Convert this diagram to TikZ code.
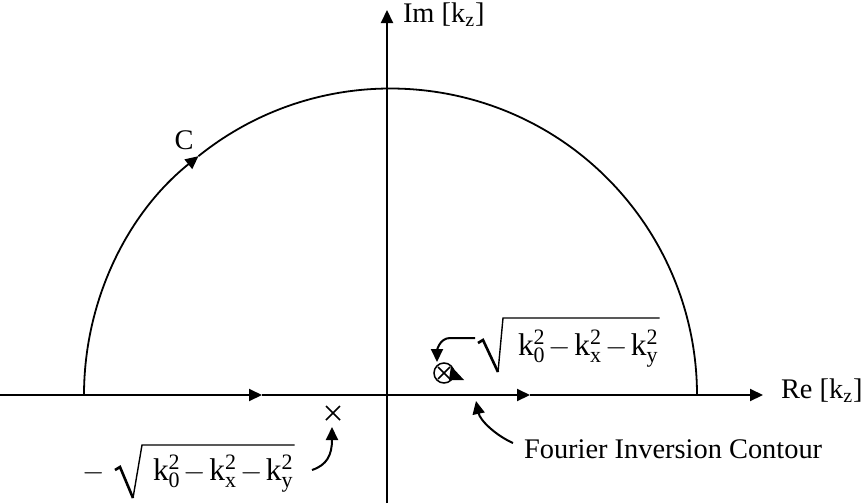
\documentclass[tikz,border=0pt]{standalone}
\usepackage{fontspec}
\setmainfont{Liberation Serif}
\usetikzlibrary{arrows.meta,calc}
\newcommand{\kk}[1]{\mathrm{k}_{\mathrm{#1}}^{\mathrm{2}}}
\newcommand{\kexpr}{\medmuskip=2mu $\kk{0}-\kk{x}-\kk{y}$}
\begin{document}
\begin{tikzpicture}[x=0.5pt,y=-0.5pt, line width=1pt,
  font=\fontsize{14.2}{17}\selectfont,
  tip/.style={-{Triangle[length=6.5pt,width=6pt]}},
  thin line/.style={line width=0.75pt},
  lbl/.style={inner sep=0pt, anchor=base west},
  mathlbl/.style={lbl, font=\fontsize{15.7}{19}\selectfont},
  radthick/.style={line width=1.3pt, line join=miter},
  radthin/.style={line width=0.7pt}]
\useasboundingbox (0,0) rectangle (866,503);
% axes
\coordinate (xL) at (0,395);
\coordinate (m1) at (262,395);
\coordinate (m2) at (530,395);
\coordinate (xR) at (763,395);
\coordinate (yB) at (387,503);
\coordinate (yT) at (387,10);
\draw[tip] (xL) -- (m1);
\draw[tip] (m1) -- (m2);
\draw[tip] (m2) -- (xR);
\draw[tip] (yB) -- (yT);
% contour C
\coordinate (aL) at (84,395);
\draw[tip, line width=0.9pt] (aL) arc[start angle=180, end angle=231.2, radius=306.5] coordinate (aM);
\draw[line width=0.9pt] (aM) arc[start angle=231.2, end angle=360, radius=306.5] coordinate (aR);
% labels
\node[lbl] (im) at (402,22) {Im [k\textsubscript{z}]};
\node[lbl] (re) at (780,398) {Re [k\textsubscript{z}]};
\node (C) at (184,140) {C};
\node[lbl] (four) at (523,458) {Fourier Inversion Contour};
% right root label
\node[mathlbl] (sqR) at (517,355) {\kexpr};
\draw[radthick] ($(sqR.base west)+(-39,-12)$) -- ($(sqR.base west)+(-34,-15)$) -- ($(sqR.base west)+(-19,17)$);
\draw[radthin] ($(sqR.base west)+(-19,17)$) -- ($(sqR.base west)+(-14,-37)$) -- ($(sqR.base east)+(0,-37)$);
% left root label
\node[mathlbl] (sqL) at (152,480) {\kexpr};
\node[mathlbl, anchor=base east] (minus) at (106,480) {$-$};
\draw[radthick] ($(sqL.base west)+(-37,-10)$) -- ($(sqL.base west)+(-32,-13)$) -- ($(sqL.base west)+(-19,18)$);
\draw[radthin] ($(sqL.base west)+(-19,18)$) -- ($(sqL.base west)+(-10,-35)$) -- ($(sqL.base east)+(0,-35)$);
% poles
\coordinate (p1) at (333,413);
\draw[thin line] ($(p1)+(-7,-7)$) -- ($(p1)+(7,7)$);
\draw[thin line] ($(p1)+(-7,7)$) -- ($(p1)+(7,-7)$);
\coordinate (p2) at (444,373);
\draw[thin line] (p2) circle[radius=10];
\draw[thin line] ($(p2)+(-6,-6)$) -- ($(p2)+(6,6)$);
\draw[thin line] ($(p2)+(-6,6)$) -- ($(p2)+(6,-6)$);
\fill (451,366) -- (464,380) -- (449,380) -- cycle;
% pointer arrows
\coordinate (s1) at (475,338);
\coordinate (t1) at (437,362);
\draw[tip] (s1) -- (450,338) to[out=180,in=90] (t1);
\coordinate (s2) at (312,470);
\coordinate (t2) at (332,427);
\draw[tip] (s2) .. controls (327,465) and (332,455) .. (t2);
\coordinate (s3) at (513,443);
\coordinate (t3) at (476,401);
\draw[tip] (s3) .. controls (495,435) and (480,420) .. (t3);
\end{tikzpicture}
\end{document}
